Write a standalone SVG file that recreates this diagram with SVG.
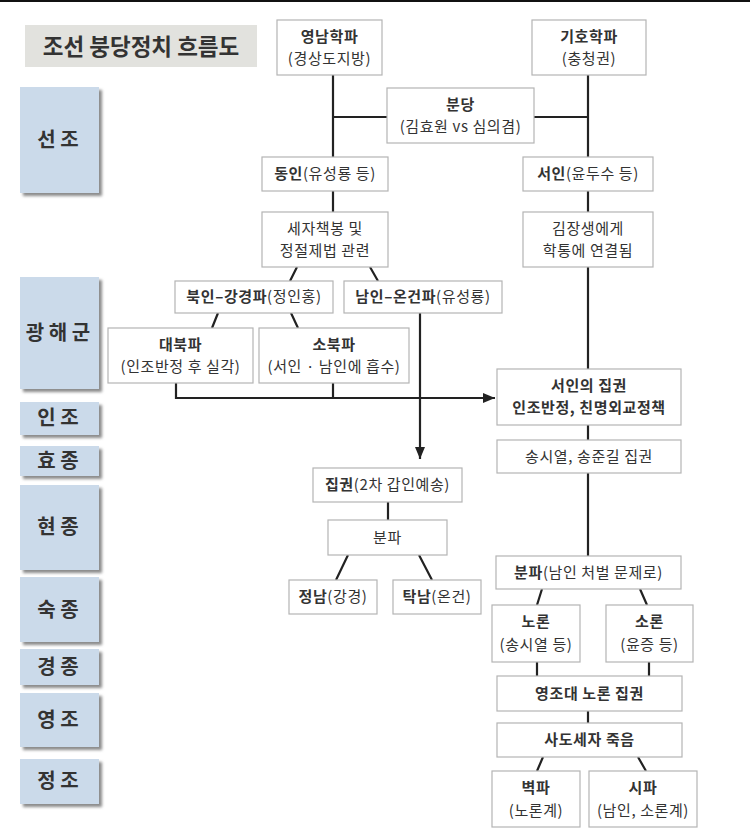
<svg xmlns="http://www.w3.org/2000/svg" width="750" height="839" viewBox="0 0 750 839">
<style>
text{font-family:"Noto Sans CJK KR","Noto Sans",sans-serif;fill:#333;text-anchor:middle}
.t{font-size:15px;letter-spacing:0.6px}
.b{font-weight:bold}
.box{fill:#fff;stroke:#b4b4b4;stroke-width:1.2}
.era{fill:#cbdaea}
.sh{fill:#8a8a8a;filter:url(#blur)}
.era-t{font-size:20px;font-weight:bold}
.ln{fill:none;stroke:#222;stroke-width:2.2}
</style>
<defs>
<filter id="blur" x="-20%" y="-20%" width="140%" height="140%"><feGaussianBlur stdDeviation="1.5"/></filter>
<marker id="ar" markerUnits="userSpaceOnUse" markerWidth="12" markerHeight="10" refX="12" refY="5" orient="auto"><path d="M0,0 L12,5 L0,10 z" fill="#222"/></marker>
</defs>
<rect width="750" height="839" fill="#fff"/>
<rect x="0" y="0" width="750" height="2" fill="#111"/>
<g id="title">
<rect x="25" y="25" width="232" height="42" fill="#e2e2de"/>
<text x="141" y="55" style="font-size:22.5px;font-weight:bold">조선 붕당정치 흐름도</text>
</g>
<g id="eras">
<g id="era-seonjo"><rect class="sh" x="23" y="90" width="79" height="106"/><rect class="era" x="20" y="87" width="79" height="106"/><text class="era-t" x="58" y="147">선 조</text></g>
<g id="era-gwanghaegun"><rect class="sh" x="23" y="280" width="79" height="112"/><rect class="era" x="20" y="277" width="79" height="112"/><text class="era-t" x="58" y="340">광 해 군</text></g>
<g id="era-injo"><rect class="sh" x="23" y="405" width="79" height="33"/><rect class="era" x="20" y="402" width="79" height="33"/><text class="era-t" x="58" y="425">인 조</text></g>
<g id="era-hyojong"><rect class="sh" x="23" y="449" width="79" height="30"/><rect class="era" x="20" y="446" width="79" height="30"/><text class="era-t" x="58" y="468">효 종</text></g>
<g id="era-hyeonjong"><rect class="sh" x="23" y="488" width="79" height="85"/><rect class="era" x="20" y="485" width="79" height="85"/><text class="era-t" x="58" y="534">현 종</text></g>
<g id="era-sukjong"><rect class="sh" x="23" y="580" width="79" height="65"/><rect class="era" x="20" y="577" width="79" height="65"/><text class="era-t" x="58" y="617">숙 종</text></g>
<g id="era-gyeongjong"><rect class="sh" x="23" y="652" width="79" height="36"/><rect class="era" x="20" y="649" width="79" height="36"/><text class="era-t" x="58" y="674">경 종</text></g>
<g id="era-yeongjo"><rect class="sh" x="23" y="696" width="79" height="54"/><rect class="era" x="20" y="693" width="79" height="54"/><text class="era-t" x="58" y="727">영 조</text></g>
<g id="era-jeongjo"><rect class="sh" x="23" y="762" width="79" height="45"/><rect class="era" x="20" y="759" width="79" height="45"/><text class="era-t" x="58" y="788">정 조</text></g>
</g>
<g id="connectors">
<path class="ln" d="M333,75 V157 M333,117 H387 M534,117 H588 M588,75 V157"/>
<path class="ln" d="M333,191 V212 M588,191 V212 M588,267 V369"/>
<path class="ln" d="M297,267 L290,281 M370,267 L378,281"/>
<path class="ln" d="M218,313 L212,328 M291,313 L298,328"/>
<path class="ln" d="M333,383 V398"/>
<path class="ln" d="M176,383 V398 H495" marker-end="url(#ar)"/>
<path class="ln" d="M420,313 V459" marker-end="url(#ar)"/>
<path class="ln" d="M588,425 V440 M588,473 V556"/>
<path class="ln" d="M388,502 V520 M348,555 L336,580 M419,555 L432,580"/>
<path class="ln" d="M542,589 L537,605 M640,589 L647,605"/>
<path class="ln" d="M537,662 V676 M649,662 V676 M588,711 V723"/>
<path class="ln" d="M543,757 L537,771 M638,757 L646,771"/>
</g>
<g id="yeongnam"><rect class="box" x="277" y="20" width="105" height="55"/><text class="t b" x="329.5" y="42">영남학파</text><text class="t" x="329.5" y="64">(경상도지방)</text></g>
<g id="giho"><rect class="box" x="532" y="20" width="114" height="55"/><text class="t b" x="589" y="42">기호학파</text><text class="t" x="589" y="64">(충청권)</text></g>
<g id="bundang"><rect class="box" x="387" y="88" width="147" height="55"/><text class="t b" x="460.5" y="110">분당</text><text class="t" x="460.5" y="132">(김효원 vs 심의겸)</text></g>
<g id="dongin"><rect class="box" x="262" y="157" width="126" height="34"/><text class="t" x="325" y="179"><tspan class="b">동인</tspan>(유성룡 등)</text></g>
<g id="seoin"><rect class="box" x="523" y="157" width="130" height="34"/><text class="t" x="588" y="179"><tspan class="b">서인</tspan>(윤두수 등)</text></g>
<g id="seja"><rect class="box" x="262" y="212" width="126" height="55"/><text class="t" x="325" y="234">세자책봉 및</text><text class="t" x="325" y="256">정절제법 관련</text></g>
<g id="gimjangsaeng"><rect class="box" x="523" y="212" width="130" height="55"/><text class="t" x="588" y="234">김장생에게</text><text class="t" x="588" y="256">학통에 연결됨</text></g>
<g id="bugin"><rect class="box" x="175" y="281" width="158" height="32"/><text class="t" x="254" y="302"><tspan class="b">북인–강경파</tspan>(정인홍)</text></g>
<g id="namin"><rect class="box" x="344" y="281" width="158" height="32"/><text class="t" x="423" y="302"><tspan class="b">남인–온건파</tspan>(유성룡)</text></g>
<g id="daebuk"><rect class="box" x="108" y="328" width="145" height="55"/><text class="t b" x="180.5" y="350">대북파</text><text class="t" x="180.5" y="372">(인조반정 후 실각)</text></g>
<g id="sobuk"><rect class="box" x="259" y="328" width="150" height="55"/><text class="t b" x="334" y="350">소북파</text><text class="t" x="334" y="372">(서인 · 남인에 흡수)</text></g>
<g id="seoin-jipgwon"><rect class="box" x="497" y="369" width="184" height="56"/><text class="t b" x="589" y="391">서인의 집권</text><text class="t b" x="589" y="413">인조반정, 친명외교정책</text></g>
<g id="songsiyeol"><rect class="box" x="497" y="440" width="184" height="33"/><text class="t" x="589" y="462">송시열, 송준길 집권</text></g>
<g id="jipgwon2"><rect class="box" x="313" y="468" width="149" height="34"/><text class="t" x="387.5" y="490"><tspan class="b">집권</tspan>(2차 갑인예송)</text></g>
<g id="bunpa1"><rect class="box" x="328" y="520" width="119" height="35"/><text class="t" x="387.5" y="543">분파</text></g>
<g id="jeongnam"><rect class="box" x="289" y="580" width="88" height="34"/><text class="t" x="333" y="602"><tspan class="b">정남</tspan>(강경)</text></g>
<g id="tangnam"><rect class="box" x="393" y="580" width="88" height="34"/><text class="t" x="437" y="602"><tspan class="b">탁남</tspan>(온건)</text></g>
<g id="bunpa2"><rect class="box" x="496" y="556" width="185" height="33"/><text class="t" x="588.5" y="578"><tspan class="b">분파</tspan>(남인 처벌 문제로)</text></g>
<g id="noron"><rect class="box" x="492" y="605" width="88" height="57"/><text class="t b" x="536" y="627">노론</text><text class="t" x="536" y="650">(송시열 등)</text></g>
<g id="soron"><rect class="box" x="606" y="605" width="87" height="57"/><text class="t b" x="649.5" y="627">소론</text><text class="t" x="649.5" y="650">(윤증 등)</text></g>
<g id="yeongjo-noron"><rect class="box" x="497" y="676" width="185" height="35"/><text class="t b" x="589.5" y="699">영조대 노론 집권</text></g>
<g id="sado"><rect class="box" x="497" y="723" width="185" height="34"/><text class="t b" x="589.5" y="745">사도세자 죽음</text></g>
<g id="byeokpa"><rect class="box" x="492" y="771" width="88" height="56"/><text class="t b" x="536" y="793">벽파</text><text class="t" x="536" y="816">(노론계)</text></g>
<g id="sipa"><rect class="box" x="589" y="771" width="108" height="56"/><text class="t b" x="643" y="793">시파</text><text class="t" x="643" y="816">(남인, 소론계)</text></g>
</svg>
